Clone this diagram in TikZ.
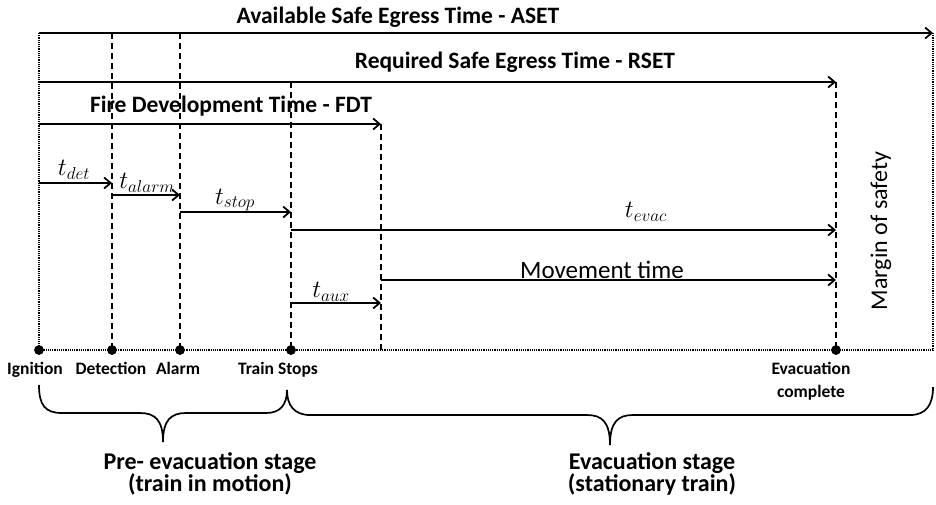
\documentclass[tikz,border=0pt]{standalone}
\usepackage{fontspec}
\setmainfont{Carlito}
\usetikzlibrary{arrows.meta}
\begin{document}
\begin{tikzpicture}[x=1pt,y=-1pt,
  timearrow/.style={line width=2.1pt,
    -{Straight Barb[length=6.5pt,width=11pt,line width=1.8pt]}},
  marker/.style={line width=1.3pt, dash pattern=on 6pt off 4pt},
  dotline/.style={line width=1.5pt, dash pattern=on 1.1pt off 1.1pt},
  event/.style={circle, fill=black, inner sep=0pt, minimum size=9.5pt},
  bigtitle/.style={font=\bfseries\fontsize{23.5}{27}\selectfont, inner sep=0pt},
  evtlabel/.style={font=\bfseries\fontsize{17.5}{23}\selectfont, inner sep=0pt, align=center},
  mathlabel/.style={font=\fontsize{24}{28}\selectfont, inner sep=0pt},
  plainlabel/.style={font=\fontsize{25}{28}\selectfont, inner sep=0pt},
  stagelabel/.style={font=\bfseries\fontsize{24}{22.5}\selectfont, inner sep=0pt, align=center},
  brace/.style={line width=1.7pt}
]
\useasboundingbox (0,0) rectangle (936,504);

% timeline events
\node[event] (ign) at (39,350) {};
\node[event] (det) at (112,350) {};
\node[event] (ala) at (180,350) {};
\node[event] (stp) at (291,350) {};
\node[event] (evc) at (836,350) {};
\coordinate (auxb) at (381,350);
\coordinate (aseb) at (933,350);

% top ends of the vertical markers
\coordinate (ignT) at (39,33);
\coordinate (aseT) at (933,33);
\coordinate (detT) at (112,33);
\coordinate (alaT) at (180,33);
\coordinate (stpT) at (291,82);
\coordinate (auxT) at (381,124);
\coordinate (evcT) at (836,82);

% vertical markers
\draw[dotline] (ignT) -- (ign.center);
\draw[dotline] (aseT) -- (aseb);
\draw[dotline] (ign.center) -- (aseb);
\draw[marker] (detT) -- (det.center);
\draw[marker] (alaT) -- (ala.center);
\draw[marker] (stpT) -- (stp.center);
\draw[marker] (auxT) -- (auxb);
\draw[marker] (evcT) -- (evc.center);

% redraw the events on top of the lines
\node[event] at (ign) {};
\node[event] at (det) {};
\node[event] at (ala) {};
\node[event] at (stp) {};
\node[event] at (evc) {};

% duration arrows
\coordinate (rsetS) at (39,82);
\coordinate (fdtS) at (39,124);
\coordinate (fdtE) at (381,124);
\coordinate (tdetS) at (39,183);   \coordinate (tdetE) at (112,183);
\coordinate (talS) at (112,195);   \coordinate (talE) at (180,195);
\coordinate (tstS) at (180,212);   \coordinate (tstE) at (291,212);
\coordinate (tevS) at (291,230);   \coordinate (tevE) at (836,230);
\coordinate (movS) at (381,280);   \coordinate (movE) at (836,280);
\coordinate (tauS) at (291,303);   \coordinate (tauE) at (381,303);

\draw[timearrow] (ignT) -- (aseT);
\draw[timearrow] (rsetS) -- (evcT);
\draw[timearrow] (fdtS) -- (fdtE);
\draw[timearrow] (tdetS) -- (tdetE);
\draw[timearrow] (talS) -- (talE);
\draw[timearrow] (tstS) -- (tstE);
\draw[timearrow] (tevS) -- (tevE);
\draw[timearrow] (movS) -- (movE);
\draw[timearrow] (tauS) -- (tauE);

% arrow labels
\node[bigtitle] (aset) at (398,17) {Available Safe Egress Time - ASET};
\node[bigtitle] (rset) at (515,62) {Required Safe Egress Time - RSET};
\node[bigtitle] (fdt) at (231,106) {Fire Development Time - FDT};
\node[mathlabel] (ldet) at (74,170) {$t_{det}$};
\node[mathlabel] (lal) at (147,183) {$t_{alarm}$};
\node[mathlabel] (lst) at (235,200) {$t_{stop}$};
\node[mathlabel] (lev) at (646,212) {$t_{evac}$};
\node[plainlabel] (lmov) at (602,270) {Movement time};
\node[mathlabel] (lau) at (331,292) {$t_{aux}$};
\node[plainlabel, font=\fontsize{24}{28}\selectfont, rotate=90] (margin) at (881,231) {Margin of safety};

% event labels, set on a common baseline
\node[evtlabel, anchor=base] (tign) at (35,374) {Ignition};
\node[evtlabel, anchor=base] (tdet) at (111,374) {Detection};
\node[evtlabel, anchor=base] (tala) at (178,374) {Alarm};
\node[evtlabel, anchor=base] (tstp) at (278,374) {Train Stops};
\node[evtlabel, anchor=north] (tevc) at (811,362) {Evacuation\\complete};

% stage braces
\draw[brace] (39,385) .. controls (39,405) and (45,413) .. (62,413) -- (140,413)
  .. controls (155,413) and (163,420) .. (163,442)
  .. controls (163,420) and (171,413) .. (186,413) -- (266,413)
  .. controls (280,413) and (287,405) .. (287,390);
\draw[brace] (287,390) .. controls (287,405) and (294,415) .. (310,415) -- (587,415)
  .. controls (602,415) and (610,422) .. (610,445)
  .. controls (610,422) and (618,415) .. (633,415) -- (910,415)
  .. controls (926,415) and (933,405) .. (933,387);

% stage labels
\node[stagelabel] (pre) at (210,474) {Pre- evacuation stage\\(train in motion)};
\node[stagelabel] (evs) at (652,474) {Evacuation stage\\(stationary train)};
\end{tikzpicture}
\end{document}
